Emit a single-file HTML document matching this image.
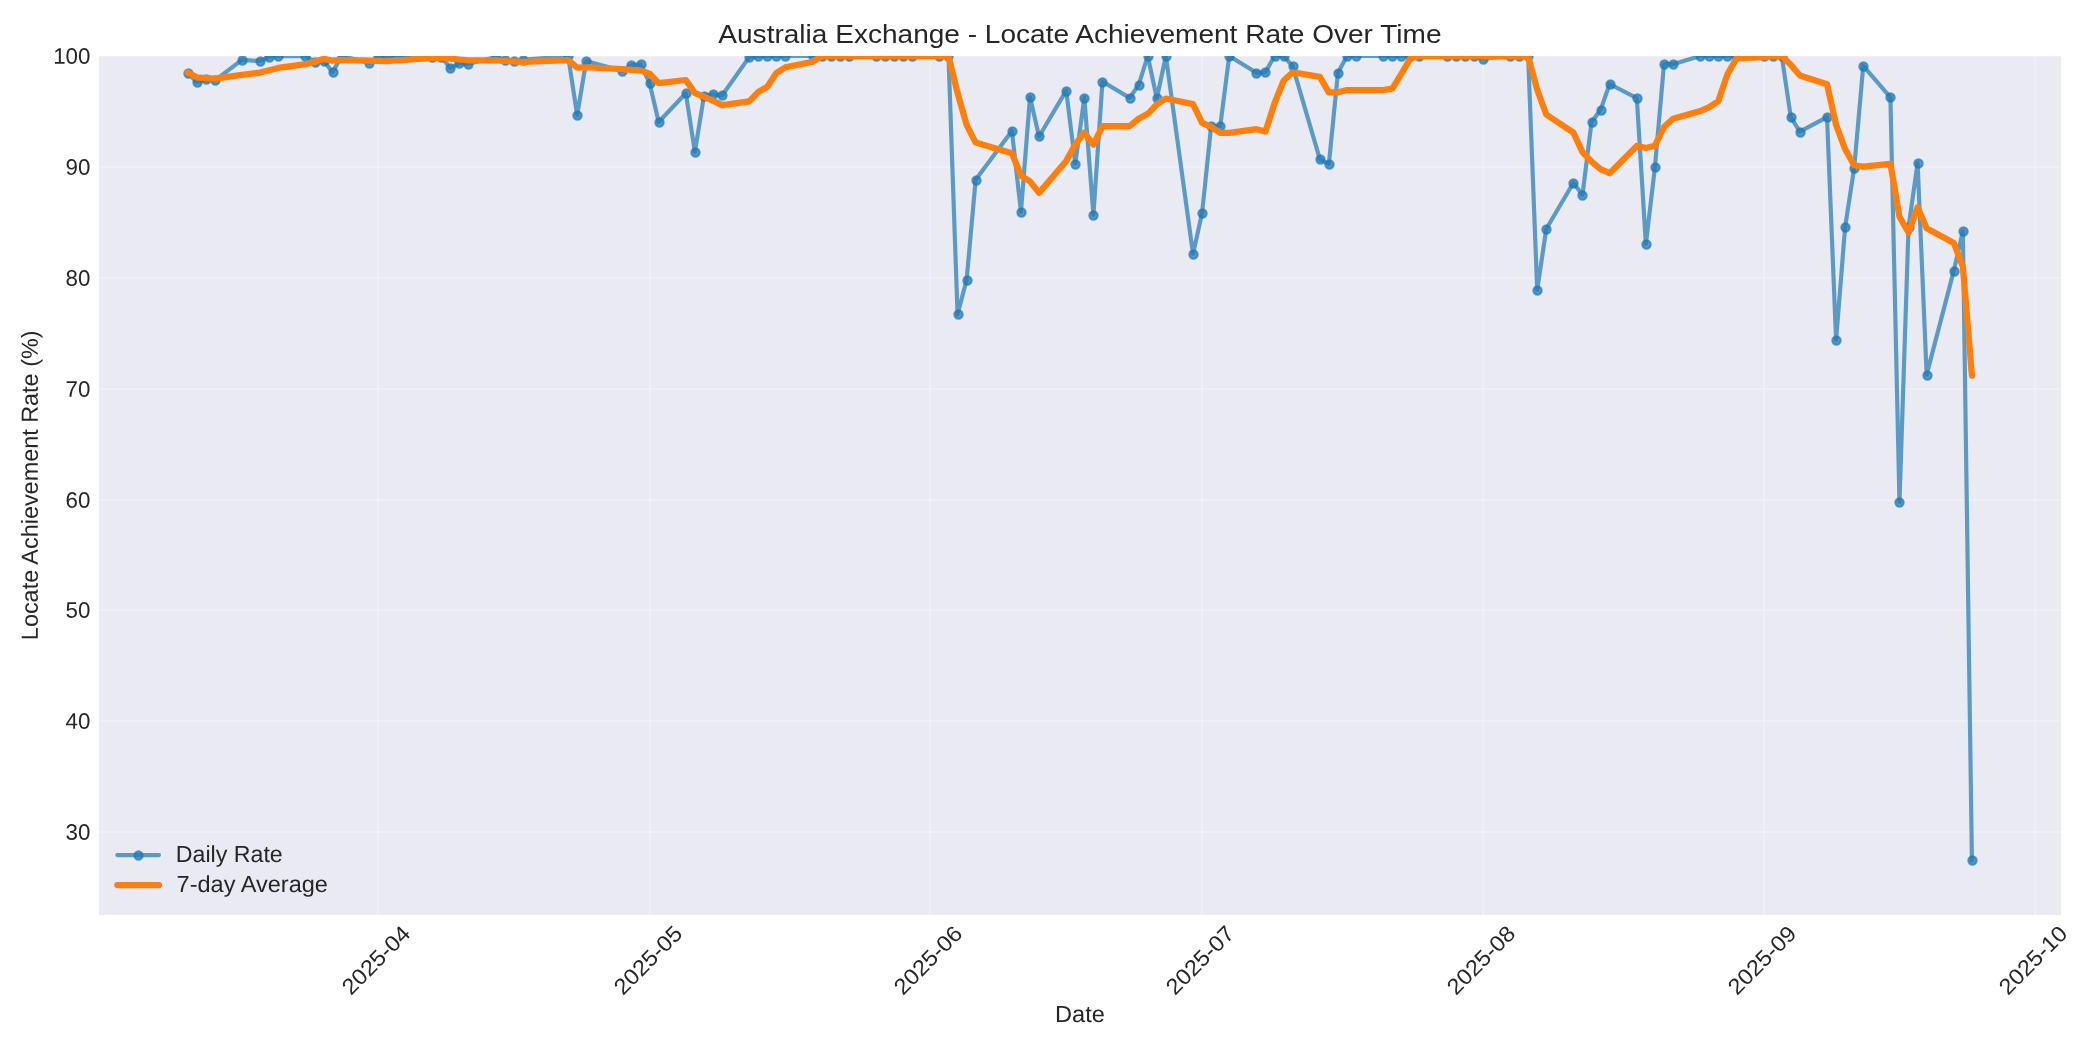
<!DOCTYPE html>
<html lang="en">
<head>
<meta charset="utf-8">
<title>Australia Exchange - Locate Achievement Rate Over Time</title>
<style>
html,body{margin:0;padding:0;background:#ffffff;}
body{width:2100px;height:1050px;overflow:hidden;}
svg{display:block;will-change:transform;}
svg text{font-family:"Liberation Sans",sans-serif;fill:#262626;}
</style>
</head>
<body>
<svg width="2100" height="1050" viewBox="0 0 2100 1050" role="img" aria-label="Line chart: Australia Exchange locate achievement rate over time">
<defs><clipPath id="ax"><rect x="99" y="56" width="1962" height="859"/></clipPath></defs>
<rect x="0" y="0" width="2100" height="1050" fill="#ffffff"/>
<rect x="99" y="56" width="1962" height="859" fill="#eaeaf2"/>
<g clip-path="url(#ax)" stroke="#ffffff" stroke-opacity="0.25" stroke-width="2" fill="none">
<line x1="378" y1="56" x2="378" y2="915"/>
<line x1="650" y1="56" x2="650" y2="915"/>
<line x1="930" y1="56" x2="930" y2="915"/>
<line x1="1202" y1="56" x2="1202" y2="915"/>
<line x1="1483" y1="56" x2="1483" y2="915"/>
<line x1="1764" y1="56" x2="1764" y2="915"/>
<line x1="2035" y1="56" x2="2035" y2="915"/>
<line x1="99" y1="832" x2="2061" y2="832"/>
<line x1="99" y1="721" x2="2061" y2="721"/>
<line x1="99" y1="610" x2="2061" y2="610"/>
<line x1="99" y1="500" x2="2061" y2="500"/>
<line x1="99" y1="389" x2="2061" y2="389"/>
<line x1="99" y1="278" x2="2061" y2="278"/>
<line x1="99" y1="167" x2="2061" y2="167"/>
<line x1="99" y1="56" x2="2061" y2="56"/>
</g>
<g clip-path="url(#ax)">
<polyline points="187.7,72.58 196.76,82.11 205.82,79.34 214.87,80.45 242.04,59.94 260.16,61.05 269.22,56.61 278.27,56 305.44,56.06 314.5,61.6 323.56,60.82 332.61,72.13 341.67,56 368.84,62.6 377.9,57.16 386.96,57.16 396.01,57.16 405.07,57.16 432.24,57.16 441.3,56.61 450.36,68.25 459.41,62.93 468.47,63.82 495.64,57.16 504.7,60.49 513.75,61.05 522.81,59.94 568.1,56 577.15,115.05 586.21,61.05 622.44,71.03 631.5,65.15 640.55,64.37 649.61,83.22 658.67,122.03 685.84,93.2 694.89,151.97 703.95,95.97 713.01,94.31 722.07,95.42 749.24,57.16 758.29,56.06 767.35,56 776.41,56 785.46,56 812.64,56 821.69,56 830.75,56 839.81,56 848.86,56 876.04,56 885.09,56 894.15,56 903.21,56 912.26,56 939.43,56 948.49,56 957.55,314.31 966.61,280.05 975.66,179.69 1011.89,130.9 1020.95,211.85 1030,96.97 1039.06,136.45 1066.23,90.65 1075.29,163.73 1084.35,97.86 1093.4,214.96 1102.46,81.56 1129.63,97.86 1138.69,84.89 1147.74,56 1156.8,98.3 1165.86,56 1193.03,253.99 1202.09,212.96 1211.14,126.14 1220.2,126.47 1229.26,56 1256.43,72.8 1265.49,72.13 1274.54,56 1283.6,56 1292.66,66.15 1319.83,159.07 1328.88,164.06 1337.94,72.8 1347,56 1356.06,56 1383.23,56 1392.28,56 1401.34,56 1410.4,56 1419.45,56 1446.63,56 1455.68,56 1464.74,56 1473.8,56 1482.85,58.61 1510.03,56 1519.08,56 1528.14,56 1537.2,290.03 1546.25,229.04 1573.42,182.8 1582.48,194.89 1591.54,122.03 1600.6,109.84 1609.65,84 1636.82,98.19 1645.88,244.01 1654.94,167.16 1663.99,64.15 1673.05,64.15 1700.22,56 1709.28,56 1718.34,56 1727.39,56 1736.45,56 1763.62,56 1772.68,56 1781.74,56 1790.79,117.04 1799.85,131.68 1827.02,117.04 1836.08,340.04 1845.13,227.04 1854.19,167.83 1863.25,65.81 1890.42,97.31 1899.48,501.93 1908.53,227.38 1917.59,163.06 1926.65,374.63 1953.82,270.62 1962.88,231.26 1971.93,860.38" fill="none" stroke="#1f77b4" stroke-opacity="0.7" stroke-width="4.17" stroke-linecap="round" stroke-linejoin="round"/>
<g fill="#1f77b4" fill-opacity="0.7" stroke="#1f77b4" stroke-opacity="0.7" stroke-width="2.08">
<circle cx="188.5" cy="73.5" r="4.17"/>
<circle cx="197.5" cy="82.5" r="4.17"/>
<circle cx="206.5" cy="79.5" r="4.17"/>
<circle cx="215.5" cy="80.5" r="4.17"/>
<circle cx="242.5" cy="60.5" r="4.17"/>
<circle cx="260.5" cy="61.5" r="4.17"/>
<circle cx="269.5" cy="57.5" r="4.17"/>
<circle cx="278.5" cy="56.5" r="4.17"/>
<circle cx="305.5" cy="56.5" r="4.17"/>
<circle cx="315.5" cy="62.5" r="4.17"/>
<circle cx="324.5" cy="61.5" r="4.17"/>
<circle cx="333.5" cy="72.5" r="4.17"/>
<circle cx="342.5" cy="56.5" r="4.17"/>
<circle cx="369.5" cy="63.5" r="4.17"/>
<circle cx="378.5" cy="57.5" r="4.17"/>
<circle cx="387.5" cy="57.5" r="4.17"/>
<circle cx="396.5" cy="57.5" r="4.17"/>
<circle cx="405.5" cy="57.5" r="4.17"/>
<circle cx="432.5" cy="57.5" r="4.17"/>
<circle cx="441.5" cy="57.5" r="4.17"/>
<circle cx="450.5" cy="68.5" r="4.17"/>
<circle cx="459.5" cy="63.5" r="4.17"/>
<circle cx="468.5" cy="64.5" r="4.17"/>
<circle cx="496.5" cy="57.5" r="4.17"/>
<circle cx="505.5" cy="60.5" r="4.17"/>
<circle cx="514.5" cy="61.5" r="4.17"/>
<circle cx="523.5" cy="60.5" r="4.17"/>
<circle cx="568.5" cy="56.5" r="4.17"/>
<circle cx="577.5" cy="115.5" r="4.17"/>
<circle cx="586.5" cy="61.5" r="4.17"/>
<circle cx="622.5" cy="71.5" r="4.17"/>
<circle cx="631.5" cy="65.5" r="4.17"/>
<circle cx="641.5" cy="64.5" r="4.17"/>
<circle cx="650.5" cy="83.5" r="4.17"/>
<circle cx="659.5" cy="122.5" r="4.17"/>
<circle cx="686.5" cy="93.5" r="4.17"/>
<circle cx="695.5" cy="152.5" r="4.17"/>
<circle cx="704.5" cy="96.5" r="4.17"/>
<circle cx="713.5" cy="94.5" r="4.17"/>
<circle cx="722.5" cy="95.5" r="4.17"/>
<circle cx="749.5" cy="57.5" r="4.17"/>
<circle cx="758.5" cy="56.5" r="4.17"/>
<circle cx="767.5" cy="56.5" r="4.17"/>
<circle cx="776.5" cy="56.5" r="4.17"/>
<circle cx="785.5" cy="56.5" r="4.17"/>
<circle cx="813.5" cy="56.5" r="4.17"/>
<circle cx="822.5" cy="56.5" r="4.17"/>
<circle cx="831.5" cy="56.5" r="4.17"/>
<circle cx="840.5" cy="56.5" r="4.17"/>
<circle cx="849.5" cy="56.5" r="4.17"/>
<circle cx="876.5" cy="56.5" r="4.17"/>
<circle cx="885.5" cy="56.5" r="4.17"/>
<circle cx="894.5" cy="56.5" r="4.17"/>
<circle cx="903.5" cy="56.5" r="4.17"/>
<circle cx="912.5" cy="56.5" r="4.17"/>
<circle cx="939.5" cy="56.5" r="4.17"/>
<circle cx="948.5" cy="56.5" r="4.17"/>
<circle cx="958.5" cy="314.5" r="4.17"/>
<circle cx="967.5" cy="280.5" r="4.17"/>
<circle cx="976.5" cy="180.5" r="4.17"/>
<circle cx="1012.5" cy="131.5" r="4.17"/>
<circle cx="1021.5" cy="212.5" r="4.17"/>
<circle cx="1030.5" cy="97.5" r="4.17"/>
<circle cx="1039.5" cy="136.5" r="4.17"/>
<circle cx="1066.5" cy="91.5" r="4.17"/>
<circle cx="1075.5" cy="164.5" r="4.17"/>
<circle cx="1084.5" cy="98.5" r="4.17"/>
<circle cx="1093.5" cy="215.5" r="4.17"/>
<circle cx="1102.5" cy="82.5" r="4.17"/>
<circle cx="1130.5" cy="98.5" r="4.17"/>
<circle cx="1139.5" cy="85.5" r="4.17"/>
<circle cx="1148.5" cy="56.5" r="4.17"/>
<circle cx="1157.5" cy="98.5" r="4.17"/>
<circle cx="1166.5" cy="56.5" r="4.17"/>
<circle cx="1193.5" cy="254.5" r="4.17"/>
<circle cx="1202.5" cy="213.5" r="4.17"/>
<circle cx="1211.5" cy="126.5" r="4.17"/>
<circle cx="1220.5" cy="126.5" r="4.17"/>
<circle cx="1229.5" cy="56.5" r="4.17"/>
<circle cx="1256.5" cy="73.5" r="4.17"/>
<circle cx="1265.5" cy="72.5" r="4.17"/>
<circle cx="1275.5" cy="56.5" r="4.17"/>
<circle cx="1284.5" cy="56.5" r="4.17"/>
<circle cx="1293.5" cy="66.5" r="4.17"/>
<circle cx="1320.5" cy="159.5" r="4.17"/>
<circle cx="1329.5" cy="164.5" r="4.17"/>
<circle cx="1338.5" cy="73.5" r="4.17"/>
<circle cx="1347.5" cy="56.5" r="4.17"/>
<circle cx="1356.5" cy="56.5" r="4.17"/>
<circle cx="1383.5" cy="56.5" r="4.17"/>
<circle cx="1392.5" cy="56.5" r="4.17"/>
<circle cx="1401.5" cy="56.5" r="4.17"/>
<circle cx="1410.5" cy="56.5" r="4.17"/>
<circle cx="1419.5" cy="56.5" r="4.17"/>
<circle cx="1447.5" cy="56.5" r="4.17"/>
<circle cx="1456.5" cy="56.5" r="4.17"/>
<circle cx="1465.5" cy="56.5" r="4.17"/>
<circle cx="1474.5" cy="56.5" r="4.17"/>
<circle cx="1483.5" cy="59.5" r="4.17"/>
<circle cx="1510.5" cy="56.5" r="4.17"/>
<circle cx="1519.5" cy="56.5" r="4.17"/>
<circle cx="1528.5" cy="56.5" r="4.17"/>
<circle cx="1537.5" cy="290.5" r="4.17"/>
<circle cx="1546.5" cy="229.5" r="4.17"/>
<circle cx="1573.5" cy="183.5" r="4.17"/>
<circle cx="1582.5" cy="195.5" r="4.17"/>
<circle cx="1592.5" cy="122.5" r="4.17"/>
<circle cx="1601.5" cy="110.5" r="4.17"/>
<circle cx="1610.5" cy="84.5" r="4.17"/>
<circle cx="1637.5" cy="98.5" r="4.17"/>
<circle cx="1646.5" cy="244.5" r="4.17"/>
<circle cx="1655.5" cy="167.5" r="4.17"/>
<circle cx="1664.5" cy="64.5" r="4.17"/>
<circle cx="1673.5" cy="64.5" r="4.17"/>
<circle cx="1700.5" cy="56.5" r="4.17"/>
<circle cx="1709.5" cy="56.5" r="4.17"/>
<circle cx="1718.5" cy="56.5" r="4.17"/>
<circle cx="1727.5" cy="56.5" r="4.17"/>
<circle cx="1736.5" cy="56.5" r="4.17"/>
<circle cx="1764.5" cy="56.5" r="4.17"/>
<circle cx="1773.5" cy="56.5" r="4.17"/>
<circle cx="1782.5" cy="56.5" r="4.17"/>
<circle cx="1791.5" cy="117.5" r="4.17"/>
<circle cx="1800.5" cy="132.5" r="4.17"/>
<circle cx="1827.5" cy="117.5" r="4.17"/>
<circle cx="1836.5" cy="340.5" r="4.17"/>
<circle cx="1845.5" cy="227.5" r="4.17"/>
<circle cx="1854.5" cy="168.5" r="4.17"/>
<circle cx="1863.5" cy="66.5" r="4.17"/>
<circle cx="1890.5" cy="97.5" r="4.17"/>
<circle cx="1899.5" cy="502.5" r="4.17"/>
<circle cx="1909.5" cy="227.5" r="4.17"/>
<circle cx="1918.5" cy="163.5" r="4.17"/>
<circle cx="1927.5" cy="375.5" r="4.17"/>
<circle cx="1954.5" cy="271.5" r="4.17"/>
<circle cx="1963.5" cy="231.5" r="4.17"/>
<circle cx="1972.5" cy="860.5" r="4.17"/>
</g>
<polyline points="187.7,72.58 196.76,77.35 205.82,78.01 214.87,78.62 242.04,74.88 260.16,72.58 269.22,70.3 278.27,67.93 305.44,64.21 314.5,61.67 323.56,58.87 332.61,60.61 341.67,59.89 368.84,60.74 377.9,60.91 386.96,61.07 396.01,60.44 405.07,59.91 432.24,57.77 441.3,57.86 450.36,58.67 459.41,59.49 468.47,60.44 495.64,60.44 504.7,60.92 513.75,61.47 522.81,61.95 568.1,60.2 577.15,67.64 586.21,67.25 622.44,69.23 631.5,69.89 640.55,70.37 649.61,73.69 658.67,83.13 685.84,80.01 694.89,93 703.95,96.56 713.01,100.73 722.07,105.16 749.24,101.44 758.29,92.01 767.35,86.7 776.41,72.99 785.46,67.28 812.64,61.81 821.69,56.17 830.75,56.01 839.81,56 848.86,56 876.04,56 885.09,56 894.15,56 903.21,56 912.26,56 939.43,56 948.49,56 957.55,92.9 966.61,124.91 975.66,142.58 1011.89,153.28 1020.95,175.54 1030,181.4 1039.06,192.89 1066.23,160.94 1075.29,144.32 1084.35,132.63 1093.4,144.64 1102.46,126.03 1129.63,126.15 1138.69,118.79 1147.74,113.84 1156.8,104.49 1165.86,98.51 1193.03,104.09 1202.09,122.86 1211.14,126.9 1220.2,132.84 1229.26,132.84 1256.43,129.19 1265.49,131.5 1274.54,103.21 1283.6,80.79 1292.66,72.22 1319.83,76.88 1328.88,92.32 1337.94,92.32 1347,90.01 1356.06,90.01 1383.23,90.01 1392.28,88.56 1401.34,73.84 1410.4,58.4 1419.45,56 1446.63,56 1455.68,56 1464.74,56 1473.8,56 1482.85,56.37 1510.03,56.37 1519.08,56.37 1528.14,56.37 1537.2,89.8 1546.25,114.52 1573.42,132.64 1582.48,152.11 1591.54,161.54 1600.6,169.23 1609.65,173.23 1636.82,145.83 1645.88,147.97 1654.94,145.73 1663.99,127.05 1673.05,118.79 1700.22,111.1 1709.28,107.1 1718.34,101.07 1727.39,74.21 1736.45,58.33 1763.62,57.16 1772.68,56 1781.74,56 1790.79,64.72 1799.85,75.53 1827.02,84.25 1836.08,124.83 1845.13,149.26 1854.19,165.24 1863.25,166.64 1890.42,163.82 1899.48,216.72 1908.53,232.48 1917.59,207.19 1926.65,228.28 1953.82,242.96 1962.88,266.6 1971.93,375.61" fill="none" stroke="#ff7f0e" stroke-width="6.25" stroke-linecap="round" stroke-linejoin="round"/>
</g>
<text x="1079.92" y="42.6" font-size="26.7" text-anchor="middle" textLength="723.2" lengthAdjust="spacingAndGlyphs">Australia Exchange - Locate Achievement Rate Over Time</text>
<text transform="rotate(0.04 90.4 840)" x="90.4" y="839.8" font-size="22.4" text-anchor="end" textLength="24.84" lengthAdjust="spacingAndGlyphs">30</text>
<text transform="rotate(0.04 90.4 729)" x="90.4" y="728.8" font-size="22.4" text-anchor="end" textLength="24.84" lengthAdjust="spacingAndGlyphs">40</text>
<text transform="rotate(0.04 90.4 618)" x="90.4" y="617.8" font-size="22.4" text-anchor="end" textLength="24.84" lengthAdjust="spacingAndGlyphs">50</text>
<text transform="rotate(0.04 90.4 508)" x="90.4" y="507.8" font-size="22.4" text-anchor="end" textLength="24.84" lengthAdjust="spacingAndGlyphs">60</text>
<text transform="rotate(0.04 90.4 397)" x="90.4" y="396.8" font-size="22.4" text-anchor="end" textLength="24.84" lengthAdjust="spacingAndGlyphs">70</text>
<text transform="rotate(0.04 90.4 286)" x="90.4" y="285.8" font-size="22.4" text-anchor="end" textLength="24.84" lengthAdjust="spacingAndGlyphs">80</text>
<text transform="rotate(0.04 90.4 175)" x="90.4" y="174.8" font-size="22.4" text-anchor="end" textLength="24.84" lengthAdjust="spacingAndGlyphs">90</text>
<text transform="rotate(0.04 90.4 64)" x="90.4" y="63.8" font-size="22.4" text-anchor="end" textLength="37.26" lengthAdjust="spacingAndGlyphs">100</text>
<text transform="translate(376,960.2) rotate(-45)" x="0" y="7.59" font-size="22.25" text-anchor="middle" textLength="86.05" lengthAdjust="spacingAndGlyphs">2025-04</text>
<text transform="translate(648,960.2) rotate(-45)" x="0" y="7.59" font-size="22.25" text-anchor="middle" textLength="86.05" lengthAdjust="spacingAndGlyphs">2025-05</text>
<text transform="translate(928,960.2) rotate(-45)" x="0" y="7.59" font-size="22.25" text-anchor="middle" textLength="86.05" lengthAdjust="spacingAndGlyphs">2025-06</text>
<text transform="translate(1200,960.2) rotate(-45)" x="0" y="7.59" font-size="22.25" text-anchor="middle" textLength="86.05" lengthAdjust="spacingAndGlyphs">2025-07</text>
<text transform="translate(1481,960.2) rotate(-45)" x="0" y="7.59" font-size="22.25" text-anchor="middle" textLength="86.05" lengthAdjust="spacingAndGlyphs">2025-08</text>
<text transform="translate(1762,960.2) rotate(-45)" x="0" y="7.59" font-size="22.25" text-anchor="middle" textLength="86.05" lengthAdjust="spacingAndGlyphs">2025-09</text>
<text transform="translate(2033,960.2) rotate(-45)" x="0" y="7.59" font-size="22.25" text-anchor="middle" textLength="86.05" lengthAdjust="spacingAndGlyphs">2025-10</text>
<text transform="rotate(0.04 1079.92 1022)" x="1079.92" y="1022" font-size="23.25" text-anchor="middle" textLength="49.79" lengthAdjust="spacingAndGlyphs">Date</text>
<text transform="translate(37.75,485.3) rotate(-89.96)" x="0" y="0" font-size="23.25" text-anchor="middle" textLength="309.66" lengthAdjust="spacingAndGlyphs">Locate Achievement Rate (%)</text>
<line x1="117.3" y1="855.05" x2="158.97" y2="855.05" stroke="#1f77b4" stroke-opacity="0.7" stroke-width="4.17" stroke-linecap="round"/>
<circle cx="138.5" cy="855.5" r="4.17" fill="#1f77b4" fill-opacity="0.7" stroke="#1f77b4" stroke-opacity="0.7" stroke-width="2.08"/>
<line x1="117.3" y1="885" x2="158.97" y2="885" stroke="#ff7f0e" stroke-width="6.25" stroke-linecap="round"/>
<text transform="rotate(0.04 175.83 862)" x="175.83" y="862" font-size="23.25" text-anchor="start" textLength="106.91" lengthAdjust="spacingAndGlyphs">Daily Rate</text>
<text transform="rotate(0.04 176.63 892)" x="176.63" y="892" font-size="23.25" text-anchor="start" textLength="151.27" lengthAdjust="spacingAndGlyphs">7-day Average</text>
</svg>
</body>
</html>
